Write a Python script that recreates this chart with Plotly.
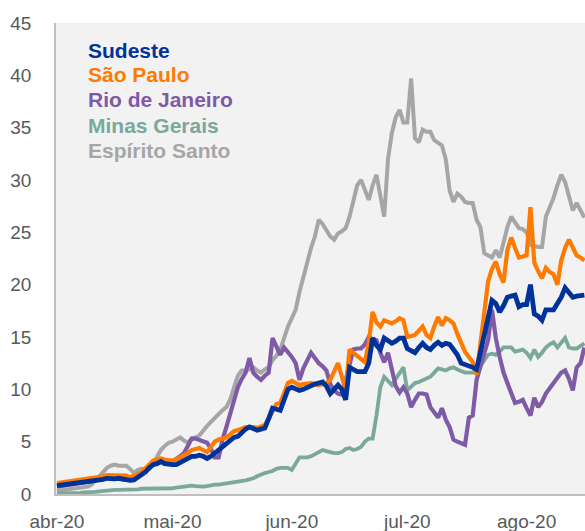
import pandas as pd
import plotly.graph_objects as go

start_date = "2020-04-01"

sudeste = [
    0.8, 0.85, 0.9, 0.95, 1.0, 1.0, 1.05, 1.1, 1.1, 1.15,
    1.2, 1.3, 1.4, 1.5, 1.45, 1.45, 1.5, 1.4, 1.4, 1.3,
    1.35, 1.6, 1.8, 2.1, 2.5, 2.8, 2.9, 3.1, 2.9, 2.8,
    2.8, 2.8, 3.0, 3.2, 3.5, 3.6, 3.6, 3.7, 3.6, 3.4,
    3.6, 3.9, 4.2, 4.5, 4.9, 5.2, 5.4, 5.5, 5.9, 6.2,
    6.4, 6.2, 6.1, 6.2, 6.3, 7.2, 8.2, 8.1, 8.0, 9.0,
    10.0, 10.2, 10.0, 9.9, 10.0, 10.2, 10.4, 10.5, 10.6, 10.7,
    10.3, 9.6, 10.0, 10.4, 10.0, 9.0, 12.1, 11.9, 11.7, 11.7,
    11.7, 12.5, 14.9, 14.2, 13.8, 14.9, 14.6, 14.4, 14.6, 14.9,
    14.9, 13.9, 13.7, 13.5, 14.0, 14.4, 14.0, 13.8, 14.2, 14.5,
    14.2, 14.4, 14.3, 13.8, 13.3, 12.5, 12.4, 12.3, 12.1, 11.9,
    13.6, 15.4, 17.0, 18.5, 18.2, 17.4, 18.0, 18.8, 18.9, 19.0,
    17.9, 18.1, 18.1, 20.0, 17.2, 17.0, 16.6, 17.6, 17.6, 17.6,
    18.2, 18.8, 19.7, 19.3, 18.8, 18.9, 19.0, 19.0,
]

sao_paulo = [
    1.05, 1.1, 1.15, 1.2, 1.25, 1.3, 1.35, 1.4, 1.45, 1.5,
    1.55, 1.6, 1.7, 1.8, 1.8, 1.8, 1.85, 1.8, 1.75, 1.6,
    1.7, 1.9, 2.1, 2.5, 2.9, 3.2, 3.3, 3.4, 3.3, 3.2,
    3.2, 3.3, 3.5, 3.6, 3.9, 4.2, 4.3, 4.4, 4.2, 4.0,
    4.5, 5.0, 5.2, 5.3, 5.4, 5.7, 6.0, 6.1, 6.3, 6.4,
    6.4, 6.4, 6.3, 6.4, 6.6, 7.2, 7.9, 8.6, 8.7, 9.6,
    10.6, 10.8, 10.6, 10.4, 10.5, 10.6, 10.6, 10.5, 10.4, 10.5,
    10.6, 10.9, 11.7, 12.5, 11.2, 9.9, 13.8, 13.5, 13.1, 12.8,
    12.6, 14.5, 17.4, 16.4, 16.0, 16.6, 16.5, 16.3, 16.5, 16.8,
    16.6, 15.0, 15.1, 15.2, 15.6, 16.0, 15.2, 14.9, 16.0, 16.9,
    16.1, 16.8, 16.6, 16.3, 15.3, 14.4, 13.6, 13.1, 12.6, 11.4,
    14.5, 17.5, 20.3, 21.5, 22.2, 21.0, 20.2, 23.3, 24.5, 23.5,
    22.6, 22.7, 22.8, 27.4, 22.1, 21.3, 20.6, 21.6, 21.2, 21.0,
    20.0, 22.3, 23.5, 24.3, 23.5, 22.8, 22.6, 22.3,
]

rio_de_janeiro = [
    0.7, 0.75, 0.8, 0.85, 0.9, 0.95, 1.0, 1.05, 1.1, 1.2,
    1.3, 1.4, 1.5, 1.5, 1.5, 1.5, 1.5, 1.4, 1.4, 1.3,
    1.4, 1.7, 2.0, 2.3, 2.6, 3.0, 3.1, 3.2, 3.1, 3.0,
    3.1, 3.3, 3.6, 3.9, 4.6, 5.3, 5.3, 5.2, 5.1, 4.9,
    4.3, 3.5, 3.5, 5.2, 6.4, 7.7, 9.0, 10.2, 11.0, 11.6,
    13.0, 11.6, 11.2, 10.9, 11.3, 11.6, 14.9, 14.0, 13.3, 14.0,
    13.6, 13.1, 12.5, 10.9, 12.0, 12.8, 13.5, 13.0, 12.5, 12.2,
    11.8, 10.5, 9.9, 9.6, 9.5, 10.9, 12.5, 13.8, 13.9, 13.9,
    14.3, 15.0, 14.8, 14.7, 13.5, 12.6, 13.5, 11.8, 10.3, 9.7,
    10.2, 9.6, 8.3, 9.0, 9.6, 9.6, 9.5, 8.3, 7.8, 7.3,
    8.2, 7.1, 6.4, 5.2, 5.0, 4.9, 4.7, 7.3, 7.5, 10.9,
    12.1, 13.4, 14.7, 17.6, 14.9, 13.1, 11.6, 10.6, 9.6, 8.7,
    8.8, 9.0, 8.2, 7.5, 9.2, 8.3, 8.8, 9.6, 10.1, 10.6,
    11.2, 11.6, 11.8, 11.0, 9.9, 12.1, 12.5, 14.0,
]

minas_gerais = [
    0.05, 0.05, 0.05, 0.1, 0.1, 0.1, 0.1, 0.15, 0.15, 0.2,
    0.2, 0.25, 0.3, 0.3, 0.35, 0.4, 0.4, 0.4, 0.4, 0.45,
    0.45, 0.45, 0.5, 0.5, 0.5, 0.5, 0.55, 0.5, 0.5, 0.55,
    0.55, 0.6, 0.65, 0.7, 0.75, 0.8, 0.75, 0.7, 0.7, 0.75,
    0.85, 0.9, 0.9, 0.95, 1.0, 1.05, 1.1, 1.15, 1.2, 1.3,
    1.4, 1.5, 1.7, 1.9, 2.0, 2.1, 2.2, 2.4, 2.5, 2.5,
    2.5, 2.3, 2.9, 3.5, 3.5, 3.5, 3.6, 3.8, 3.9, 4.2,
    4.1, 4.0, 3.9, 3.9, 4.0, 4.3, 4.4, 4.2, 4.3, 4.5,
    5.0, 5.3, 5.3, 7.5, 10.2, 11.2, 10.8, 10.4, 11.0, 11.6,
    12.1, 9.9, 10.2, 10.6, 10.7, 10.9, 11.0, 11.2, 11.6, 12.0,
    11.9, 11.8, 12.0, 12.1, 11.9, 11.7, 11.6, 11.6, 11.6, 11.7,
    12.2, 12.8, 13.3, 13.4, 13.3, 13.6, 14.0, 14.0, 14.0, 13.6,
    13.7, 13.8, 13.5, 13.0, 13.8, 13.1, 13.5, 14.0, 14.3, 14.5,
    14.0, 14.5, 14.9, 14.0, 13.9, 13.9, 14.1, 14.4,
]

espirito_santo = [
    0.3, 0.35, 0.4, 0.45, 0.5, 0.5, 0.55, 0.6, 0.7, 0.9,
    1.3, 1.8, 2.2, 2.5, 2.7, 2.8, 2.7, 2.7, 2.7, 2.4,
    2.0, 2.3, 2.4, 2.3, 2.4, 2.9, 3.5, 4.2, 4.6, 4.9,
    5.0, 5.2, 5.4, 5.1, 4.9, 5.3, 5.4, 5.6, 6.1, 6.5,
    6.9, 7.3, 7.7, 8.0, 8.3, 9.0, 10.2, 11.3, 11.8, 11.8,
    11.9, 12.1, 11.8, 11.6, 11.9, 12.1, 12.8, 13.2, 13.8, 15.0,
    16.0, 16.8, 17.6, 19.3, 20.8, 22.3, 23.5, 24.6, 26.2, 25.8,
    25.2, 24.6, 24.3, 24.9, 25.1, 25.4, 26.5, 28.0, 29.5, 30.0,
    29.0, 28.1, 29.5, 30.5, 28.5, 26.5, 32.0, 34.5, 36.0, 36.7,
    35.5, 35.5, 39.7, 34.0, 33.6, 34.8, 34.6, 34.6, 33.8, 33.5,
    33.3, 32.0, 29.0, 27.9, 28.7, 28.4, 27.9, 27.8, 27.8, 26.2,
    25.5, 23.0, 22.8, 22.6, 23.3, 22.6, 24.0, 25.5, 26.5, 26.0,
    25.4, 25.3, 25.0, 23.8, 23.7, 23.6, 23.6, 26.5, 27.4, 28.3,
    29.5, 30.5, 29.8, 28.5, 27.1, 27.8, 27.0, 26.4,
]

tick_dates = ["2020-04-01", "2020-05-01", "2020-06-01", "2020-07-01", "2020-08-01"]
tick_labels = ["abr-20", "mai-20", "jun-20", "jul-20", "ago-20"]
y_ticks = [0, 5, 10, 15, 20, 25, 30, 35, 40, 45]

series_names = ["Sudeste", "São Paulo", "Rio de Janeiro", "Minas Gerais", "Espírito Santo"]
series_values = [sudeste, sao_paulo, rio_de_janeiro, minas_gerais, espirito_santo]

colors = {
    "Sudeste": "#003399",
    "São Paulo": "#FF7A00",
    "Rio de Janeiro": "#7F5AA6",
    "Minas Gerais": "#7BA89C",
    "Espírito Santo": "#A6A6A6",
}
widths = {
    "Sudeste": 4.8,
    "São Paulo": 4.2,
    "Rio de Janeiro": 4.2,
    "Minas Gerais": 3.8,
    "Espírito Santo": 4.0,
}

n = len(sudeste)
for s in series_values:
    assert len(s) == n, len(s)
dates = pd.date_range(start_date, periods=n, freq="D")

fig = go.Figure()
draw_order = ["Espírito Santo", "Minas Gerais", "Rio de Janeiro", "São Paulo", "Sudeste"]
for name in draw_order:
    vals = series_values[series_names.index(name)]
    fig.add_trace(go.Scatter(
        x=dates, y=vals, mode="lines", name=name,
        line=dict(color=colors[name], width=widths[name]),
        showlegend=False, hoverinfo="skip",
    ))

# Legend as coloured bold text
legend_y = [0.942, 0.890, 0.837, 0.783, 0.730]
for name, yy in zip(series_names, legend_y):
    fig.add_annotation(
        x=0.057, y=yy, xref="paper", yref="paper",
        xanchor="left", yanchor="middle", showarrow=False,
        text="<b>" + name + "</b>",
        font=dict(family="Liberation Sans, Arial, sans-serif", size=21, color=colors[name]),
    )

fig.update_layout(
    width=585, height=531,
    margin=dict(l=56, r=0, t=23, b=37),
    paper_bgcolor="white",
    plot_bgcolor="#F2F2F2",
    font=dict(family="Liberation Sans, Arial, sans-serif", size=19, color="#595959"),
    xaxis=dict(
        type="date",
        range=["2020-03-31 18:00", "2020-08-16 04:00"],
        tickvals=tick_dates, ticktext=tick_labels,
        showgrid=False, zeroline=False, automargin=False,
        showline=True, linecolor="#BFBFBF", linewidth=1.5,
        ticks="", ticklabelstandoff=9,
        tickfont=dict(size=19, color="#595959"),
    ),
    yaxis=dict(
        range=[0, 45], tickvals=y_ticks,
        showgrid=False, zeroline=False, automargin=False,
        showline=True, linecolor="#BFBFBF", linewidth=1.5,
        ticks="", ticklabelstandoff=19,
        tickfont=dict(size=19, color="#595959"),
    ),
)

fig.write_html(
    "out.html",
    config={"displayModeBar": False},
    post_script="document.body.style.margin='0';document.body.style.overflow='hidden';",
)
